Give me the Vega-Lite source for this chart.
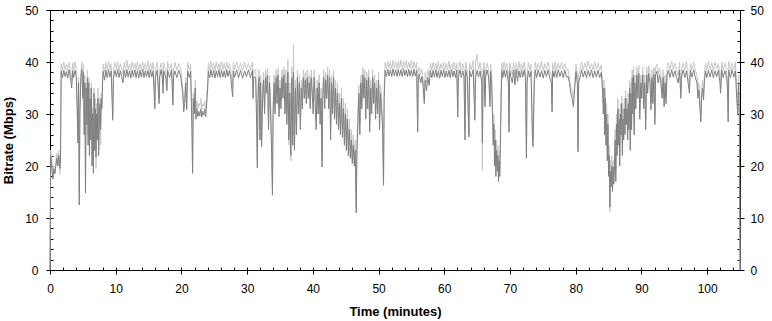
{
"$schema": "https://vega.github.io/schema/vega-lite/v6.json",
"width": 690, "height": 260,
"autosize": {"type": "none"},
"padding": {"left": 50, "top": 10, "right": 32, "bottom": 51},
"background": "white",
"config": {"view": {"stroke": null}, "axis": {"labelFont": "Liberation Sans", "labelFontSize": 12, "labelColor": "black", "titleFont": "Liberation Sans", "titleFontSize": 13, "titleFontWeight": "bold", "titleColor": "black", "domainColor": "black", "tickColor": "black", "grid": false, "zindex": 1, "labelFlush": false}},
"data": {"values": [
{"t":0,"d":0,"l":0},{"t":0.1,"d":22,"l":23},{"t":0.2,"d":21,"l":22},{"t":0.3,"d":19,"l":20.5},{"t":0.45,"d":17.5,"l":18},{"t":0.6,"d":19.5,"l":20},{"t":0.75,"d":18.5,"l":19.5},{"t":0.9,"d":20,"l":21},{"t":1.05,"d":21.5,"l":22.5},{"t":1.2,"d":20,"l":21},{"t":1.35,"d":22,"l":23},{"t":1.5,"d":19.5,"l":18.5},{"t":1.6,"d":21,"l":22},
{"t":1.7,"d":38.3,"l":39.7},{"t":1.9,"d":37.0,"l":38.4},{"t":2.1,"d":38.4,"l":40.0},{"t":2.3,"d":37.2,"l":38.5},{"t":2.5,"d":38.2,"l":39.6},{"t":2.7,"d":36.9,"l":38.3},{"t":2.9,"d":38.5,"l":39.9},{"t":3.1,"d":37.1,"l":38.6},{"t":3.3,"d":35,"l":36.5},{"t":3.45,"d":38.3,"l":39.8},{"t":3.6,"d":37.0,"l":38.4},{"t":3.8,"d":38.4,"l":40.1},{"t":4.0,"d":37.2,"l":38.5},
{"t":4.15,"d":30,"l":32},{"t":4.25,"d":24.4,"l":26},{"t":4.35,"d":36,"l":37},{"t":4.45,"d":12.5,"l":15},{"t":4.55,"d":30,"l":31},{"t":4.7,"d":37,"l":38},{"t":4.85,"d":38.5,"l":40},{"t":5.0,"d":33,"l":35},{"t":5.1,"d":38,"l":39.5},{"t":5.2,"d":26,"l":28},{"t":5.3,"d":36,"l":37.5},{"t":5.4,"d":14.8,"l":17},{"t":5.5,"d":35,"l":36},{"t":5.6,"d":28,"l":30},{"t":5.7,"d":37,"l":38.5},{"t":5.8,"d":24,"l":26},{"t":5.9,"d":36,"l":37},{"t":6.0,"d":22,"l":24},{"t":6.1,"d":33,"l":35},{"t":6.2,"d":25,"l":27},{"t":6.3,"d":35,"l":36},{"t":6.4,"d":20,"l":22},{"t":6.5,"d":30,"l":31},{"t":6.6,"d":18.6,"l":20},{"t":6.7,"d":34,"l":35},{"t":6.8,"d":23,"l":25},{"t":6.9,"d":31,"l":33},{"t":7.0,"d":21.7,"l":19.5},{"t":7.1,"d":30,"l":32},{"t":7.2,"d":25,"l":27},{"t":7.3,"d":33,"l":35},{"t":7.4,"d":22,"l":23},{"t":7.5,"d":28,"l":30},{"t":7.6,"d":32,"l":33},{"t":7.7,"d":27,"l":24},{"t":7.8,"d":33,"l":34},{"t":7.9,"d":31,"l":32},{"t":8.0,"d":36,"l":37},
{"t":8.1,"d":38.2,"l":39.6},{"t":8.3,"d":36.5,"l":38},{"t":8.5,"d":38.4,"l":39.9},{"t":8.7,"d":37.0,"l":38.4},{"t":8.9,"d":38.5,"l":40.2},{"t":9.1,"d":37.1,"l":38.5},{"t":9.3,"d":38.3,"l":39.7},{"t":9.55,"d":28.8,"l":30},{"t":9.65,"d":37.0,"l":38.4},{"t":9.9,"d":38.4,"l":39.9},{"t":10.1,"d":37.1,"l":38.5},{"t":10.3,"d":38.5,"l":40.0},{"t":10.5,"d":37.0,"l":38.3},{"t":10.7,"d":38.3,"l":39.7},{"t":10.9,"d":37.2,"l":38.6},{"t":11.1,"d":36,"l":37.5},{"t":11.3,"d":38.4,"l":39.9},{"t":11.5,"d":37.0,"l":38.4},{"t":11.7,"d":38.5,"l":40.3},{"t":11.9,"d":37.1,"l":38.5},{"t":12.1,"d":38.3,"l":39.6},{"t":12.3,"d":36.9,"l":38.3},{"t":12.5,"d":38.4,"l":40.0},{"t":12.7,"d":37.2,"l":38.6},{"t":12.9,"d":38.5,"l":39.8},{"t":13.1,"d":37.0,"l":38.4},{"t":13.3,"d":38.3,"l":40.1},{"t":13.5,"d":36.9,"l":38.3},{"t":13.7,"d":38.4,"l":39.7},{"t":13.9,"d":37.1,"l":38.5},{"t":14.1,"d":38.6,"l":40.0},{"t":14.3,"d":37.0,"l":38.4},{"t":14.5,"d":38.3,"l":39.8},{"t":14.7,"d":37.2,"l":38.5},{"t":14.9,"d":38.4,"l":40.2},{"t":15.1,"d":37.0,"l":38.4},{"t":15.3,"d":38.5,"l":39.8},{"t":15.5,"d":37.1,"l":38.5},{"t":15.7,"d":38.3,"l":39.9},
{"t":15.95,"d":31,"l":32.5},{"t":16.05,"d":37.0,"l":38.4},{"t":16.3,"d":38.4,"l":40.0},{"t":16.6,"d":32,"l":33},{"t":16.7,"d":37.1,"l":38.5},{"t":16.9,"d":38.5,"l":39.8},{"t":17.1,"d":37.0,"l":38.4},{"t":17.2,"d":34,"l":35.5},{"t":17.3,"d":38.3,"l":39.9},{"t":17.6,"d":37.1,"l":38.5},{"t":17.8,"d":34.5,"l":36},{"t":17.9,"d":38.4,"l":40.1},{"t":18.2,"d":37.0,"l":38.4},{"t":18.5,"d":38.5,"l":39.8},{"t":18.7,"d":31.7,"l":33},{"t":18.8,"d":37.2,"l":38.6},{"t":19.0,"d":38.3,"l":40.0},{"t":19.3,"d":37.0,"l":38.4},{"t":19.6,"d":38.4,"l":39.7},{"t":19.9,"d":37.1,"l":38.5},{"t":20.2,"d":34,"l":35},{"t":20.35,"d":30.4,"l":32},{"t":20.5,"d":32,"l":33},{"t":20.65,"d":36,"l":37},{"t":20.8,"d":30.8,"l":31},{"t":20.95,"d":38.3,"l":39.9},{"t":21.2,"d":37.0,"l":38.4},{"t":21.4,"d":38.2,"l":39.6},
{"t":21.6,"d":27,"l":29},{"t":21.7,"d":18.6,"l":20},{"t":21.8,"d":33,"l":34},{"t":21.95,"d":30,"l":31.5},{"t":22.1,"d":35,"l":36.5},{"t":22.2,"d":29,"l":31},{"t":22.35,"d":31,"l":32.5},{"t":22.5,"d":29.5,"l":31},{"t":22.65,"d":30.5,"l":32},{"t":22.8,"d":29.6,"l":31.5},{"t":22.95,"d":31,"l":33},{"t":23.1,"d":29.4,"l":31},{"t":23.25,"d":30.5,"l":32},{"t":23.4,"d":29.8,"l":31.5},{"t":23.55,"d":31,"l":32.5},{"t":23.7,"d":29.5,"l":31},{"t":23.85,"d":32,"l":33.5},{"t":24.0,"d":35,"l":36},
{"t":24.1,"d":38.3,"l":39.8},{"t":24.3,"d":37.0,"l":38.4},{"t":24.5,"d":38.5,"l":40.1},{"t":24.7,"d":37.1,"l":38.5},{"t":24.9,"d":38.4,"l":39.8},{"t":25.1,"d":36.9,"l":38.3},{"t":25.3,"d":38.3,"l":40.0},{"t":25.5,"d":37.2,"l":38.6},{"t":25.7,"d":38.5,"l":39.7},{"t":25.9,"d":37.0,"l":38.4},{"t":26.1,"d":38.4,"l":40.2},{"t":26.3,"d":37.1,"l":38.5},{"t":26.5,"d":38.3,"l":39.8},{"t":26.7,"d":37.0,"l":38.3},{"t":26.9,"d":38.5,"l":40.0},{"t":27.1,"d":37.2,"l":38.6},{"t":27.3,"d":38.4,"l":39.7},{"t":27.5,"d":37.0,"l":38.4},{"t":27.8,"d":33.3,"l":35},{"t":27.9,"d":38.3,"l":39.9},{"t":28.1,"d":37.1,"l":38.5},{"t":28.4,"d":38.5,"l":40.1},{"t":28.7,"d":37.0,"l":38.4},{"t":29.0,"d":38.4,"l":39.8},{"t":29.3,"d":36.9,"l":38.3},{"t":29.6,"d":38.3,"l":40.0},{"t":29.9,"d":37.2,"l":38.6},{"t":30.2,"d":38.5,"l":39.7},{"t":30.5,"d":37.0,"l":38.4},{"t":30.8,"d":38.4,"l":40.0},{"t":30.9,"d":33,"l":35},{"t":31.0,"d":37.1,"l":38.5},
{"t":31.3,"d":37,"l":38.5},{"t":31.45,"d":28,"l":30},{"t":31.55,"d":19.6,"l":21},{"t":31.65,"d":33,"l":35},{"t":31.8,"d":37,"l":38.5},{"t":31.95,"d":25,"l":27},{"t":32.05,"d":36,"l":37.5},{"t":32.2,"d":23.7,"l":25.5},{"t":32.35,"d":33,"l":35},{"t":32.5,"d":36.5,"l":38},{"t":32.65,"d":30,"l":32},{"t":32.8,"d":37,"l":38.5},{"t":32.95,"d":34,"l":36},{"t":33.1,"d":37.5,"l":38.8},{"t":33.25,"d":27,"l":29},{"t":33.4,"d":36,"l":37.5},{"t":33.55,"d":31,"l":33},{"t":33.7,"d":24,"l":26},{"t":33.85,"d":14.4,"l":16},{"t":33.95,"d":30,"l":32},{"t":34.1,"d":36,"l":37.5},{"t":34.25,"d":30,"l":32},{"t":34.4,"d":37,"l":38.5},{"t":34.55,"d":32,"l":34},{"t":34.7,"d":37.5,"l":38.8},{"t":34.85,"d":29.5,"l":31},{"t":35.0,"d":35,"l":36.5},{"t":35.15,"d":31,"l":33},{"t":35.3,"d":37,"l":38.5},{"t":35.45,"d":33,"l":35},{"t":35.6,"d":37.5,"l":39},{"t":35.75,"d":30,"l":32},{"t":35.9,"d":36,"l":38.5},{"t":36.05,"d":28,"l":30},{"t":36.2,"d":38,"l":40.5},{"t":36.35,"d":25,"l":24},{"t":36.5,"d":34,"l":36},{"t":36.65,"d":22,"l":21},{"t":36.8,"d":37,"l":39},{"t":36.95,"d":24,"l":26},{"t":37.05,"d":38,"l":43.3},{"t":37.2,"d":23,"l":25},{"t":37.35,"d":35,"l":36.5},{"t":37.5,"d":26,"l":28},{"t":37.65,"d":37,"l":38.5},{"t":37.8,"d":30,"l":32},{"t":37.95,"d":36,"l":37.5},{"t":38.1,"d":27,"l":29},{"t":38.25,"d":35,"l":36.5},{"t":38.4,"d":31,"l":33},{"t":38.55,"d":37,"l":38.5},{"t":38.7,"d":33,"l":35},{"t":38.85,"d":36.5,"l":38},{"t":39.0,"d":32,"l":34},{"t":39.15,"d":37,"l":38.5},{"t":39.3,"d":33,"l":35},{"t":39.45,"d":36,"l":37.5},{"t":39.6,"d":31,"l":33},{"t":39.75,"d":37,"l":38.5},{"t":39.9,"d":34,"l":35.5},{"t":40.05,"d":30,"l":32},{"t":40.2,"d":37,"l":38.5},{"t":40.35,"d":32,"l":34},{"t":40.5,"d":27,"l":29},{"t":40.65,"d":35,"l":36.5},{"t":40.8,"d":30,"l":32},{"t":40.95,"d":36,"l":37.5},{"t":41.1,"d":28,"l":30},{"t":41.25,"d":33,"l":35},{"t":41.4,"d":19.8,"l":21},{"t":41.5,"d":33,"l":34},{"t":41.65,"d":37,"l":38.5},{"t":41.8,"d":31,"l":33},{"t":41.95,"d":36.5,"l":38},{"t":42.1,"d":33,"l":35},{"t":42.25,"d":37.5,"l":39},{"t":42.4,"d":31,"l":32},{"t":42.55,"d":37,"l":38.5},{"t":42.7,"d":25,"l":27},{"t":42.85,"d":36,"l":37.5},{"t":43.0,"d":30,"l":32},{"t":43.15,"d":37,"l":38.5},{"t":43.3,"d":29,"l":31},{"t":43.45,"d":35,"l":36.5},{"t":43.6,"d":28,"l":30},{"t":43.75,"d":34,"l":36},{"t":43.9,"d":27,"l":29},{"t":44.05,"d":32,"l":34},{"t":44.2,"d":26,"l":28},{"t":44.35,"d":33,"l":35},{"t":44.5,"d":25.5,"l":27},{"t":44.65,"d":31,"l":33},{"t":44.8,"d":24,"l":26},{"t":44.95,"d":30,"l":32},{"t":45.1,"d":23,"l":25},{"t":45.25,"d":29,"l":31},{"t":45.4,"d":22,"l":24},{"t":45.55,"d":27,"l":29},{"t":45.7,"d":21.5,"l":23},{"t":45.85,"d":25,"l":27},{"t":46.0,"d":20.5,"l":22},{"t":46.15,"d":24,"l":26},{"t":46.3,"d":20,"l":21.5},{"t":46.45,"d":23,"l":25},{"t":46.6,"d":11,"l":12},{"t":46.7,"d":22,"l":24},{"t":46.85,"d":28,"l":30},{"t":47.0,"d":34,"l":35.5},{"t":47.15,"d":26,"l":28},{"t":47.3,"d":36,"l":37.5},{"t":47.45,"d":31,"l":33},{"t":47.6,"d":37.5,"l":39},{"t":47.75,"d":33,"l":35},{"t":47.9,"d":37,"l":38.5},{"t":48.05,"d":29,"l":31},{"t":48.2,"d":36.5,"l":38},{"t":48.35,"d":31,"l":33},{"t":48.5,"d":37,"l":38.5},{"t":48.65,"d":26.5,"l":28},{"t":48.8,"d":35,"l":36.5},{"t":48.95,"d":30,"l":32},{"t":49.1,"d":37,"l":38.5},{"t":49.25,"d":32,"l":34},{"t":49.4,"d":36,"l":37.5},{"t":49.55,"d":29,"l":31},{"t":49.7,"d":35,"l":36.5},{"t":49.85,"d":30,"l":32},{"t":50.0,"d":36.5,"l":38},{"t":50.15,"d":27,"l":29},{"t":50.3,"d":34,"l":35.5},{"t":50.45,"d":31,"l":33},{"t":50.6,"d":28,"l":27},{"t":50.75,"d":16.3,"l":17},{"t":50.85,"d":33,"l":35},
{"t":51.0,"d":38.4,"l":39.9},{"t":51.2,"d":37.2,"l":38.7},{"t":51.4,"d":38.6,"l":40.2},{"t":51.6,"d":37.3,"l":38.8},{"t":51.8,"d":38.5,"l":40.1},{"t":52.0,"d":37.2,"l":38.6},{"t":52.2,"d":38.7,"l":40.3},{"t":52.4,"d":37.4,"l":38.9},{"t":52.6,"d":38.5,"l":40.0},{"t":52.8,"d":37.2,"l":38.7},{"t":53.0,"d":38.6,"l":40.2},{"t":53.2,"d":37.3,"l":38.8},{"t":53.4,"d":38.5,"l":40.4},{"t":53.6,"d":37.2,"l":38.6},{"t":53.8,"d":38.7,"l":40.1},{"t":54.0,"d":37.4,"l":38.9},{"t":54.2,"d":38.5,"l":40.2},{"t":54.4,"d":37.2,"l":38.7},{"t":54.6,"d":38.6,"l":40.0},{"t":54.8,"d":37.3,"l":38.8},{"t":55.0,"d":38.5,"l":40.3},{"t":55.2,"d":37.2,"l":38.6},{"t":55.4,"d":38.6,"l":40.1},{"t":55.6,"d":37.3,"l":38.8},{"t":55.8,"d":38.4,"l":39.9},{"t":55.95,"d":26.5,"l":28},{"t":56.05,"d":37,"l":38.5},{"t":56.2,"d":37.6,"l":39},{"t":56.4,"d":36,"l":37.5},{"t":56.6,"d":37.2,"l":38.6},{"t":56.8,"d":35,"l":36.5},{"t":56.95,"d":32,"l":33.5},{"t":57.1,"d":36.5,"l":38},{"t":57.3,"d":34.5,"l":36},{"t":57.5,"d":37,"l":38.5},{"t":57.7,"d":35.5,"l":37},
{"t":57.9,"d":38.3,"l":39.8},{"t":58.1,"d":37.0,"l":38.4},{"t":58.3,"d":38.4,"l":40.0},{"t":58.5,"d":37.1,"l":38.5},{"t":58.7,"d":38.5,"l":39.8},{"t":58.9,"d":37.0,"l":38.4},{"t":59.1,"d":38.3,"l":40.1},{"t":59.3,"d":36.9,"l":38.3},{"t":59.5,"d":38.4,"l":39.7},{"t":59.7,"d":37.2,"l":38.6},{"t":59.9,"d":38.5,"l":40.0},{"t":60.1,"d":37.0,"l":38.4},{"t":60.3,"d":38.3,"l":39.8},{"t":60.5,"d":37.1,"l":38.5},{"t":60.7,"d":38.4,"l":40.2},{"t":60.9,"d":37.0,"l":38.4},{"t":61.1,"d":38.5,"l":39.7},{"t":61.3,"d":37.2,"l":38.6},{"t":61.5,"d":38.3,"l":40.0},{"t":61.7,"d":37.0,"l":38.4},{"t":61.9,"d":38.4,"l":39.8},{"t":62.05,"d":29.4,"l":31},{"t":62.15,"d":37.1,"l":38.5},{"t":62.4,"d":38.5,"l":40.1},{"t":62.6,"d":37.0,"l":38.4},{"t":62.8,"d":38.3,"l":39.7},{"t":63.0,"d":37.2,"l":38.6},{"t":63.15,"d":25,"l":27},{"t":63.25,"d":38.4,"l":40.0},{"t":63.5,"d":37.0,"l":38.4},{"t":63.75,"d":25.6,"l":26},{"t":63.85,"d":38.3,"l":39.8},{"t":64.1,"d":37.1,"l":38.5},{"t":64.4,"d":38.5,"l":40.2},{"t":64.65,"d":28.8,"l":30},{"t":64.75,"d":37.0,"l":40},{"t":65.0,"d":38.4,"l":41.5},{"t":65.2,"d":37.1,"l":38.5},{"t":65.45,"d":38.3,"l":39.9},{"t":65.7,"d":36,"l":37.5},{"t":65.8,"d":24.4,"l":19.2},{"t":65.9,"d":37.2,"l":38.5},{"t":66.05,"d":38.4,"l":40.0},{"t":66.2,"d":31.4,"l":33},{"t":66.3,"d":37.0,"l":38.4},{"t":66.5,"d":38.5,"l":39.8},{"t":66.75,"d":37.1,"l":38.5},{"t":66.95,"d":31.4,"l":33},{"t":67.05,"d":38.2,"l":39.6},{"t":67.2,"d":36,"l":37.5},
{"t":67.35,"d":29,"l":31},{"t":67.45,"d":24,"l":26},{"t":67.55,"d":28,"l":30},{"t":67.65,"d":20,"l":22},{"t":67.75,"d":25,"l":27},{"t":67.85,"d":18,"l":20},{"t":67.95,"d":23,"l":25},{"t":68.05,"d":19,"l":20.5},{"t":68.15,"d":22,"l":24},{"t":68.25,"d":17,"l":18.5},{"t":68.35,"d":21,"l":23},{"t":68.45,"d":18,"l":19.5},{"t":68.55,"d":25,"l":27},{"t":68.65,"d":33,"l":35},
{"t":68.75,"d":38.3,"l":39.8},{"t":68.9,"d":37.0,"l":38.4},{"t":69.1,"d":38.5,"l":40.1},{"t":69.3,"d":37.1,"l":38.5},{"t":69.5,"d":38.4,"l":39.8},{"t":69.75,"d":36,"l":37.5},{"t":69.85,"d":26.5,"l":28},{"t":69.95,"d":38.3,"l":39.9},{"t":70.15,"d":37.0,"l":38.4},{"t":70.35,"d":36,"l":37.5},{"t":70.55,"d":38.4,"l":40.0},{"t":70.75,"d":35.6,"l":37},{"t":70.95,"d":38.5,"l":39.8},{"t":71.15,"d":36.3,"l":37.8},{"t":71.35,"d":38.3,"l":40.1},{"t":71.55,"d":37.0,"l":38.4},{"t":71.75,"d":38.4,"l":39.7},{"t":71.95,"d":37.1,"l":38.5},{"t":72.15,"d":38.5,"l":40.0},{"t":72.35,"d":37.0,"l":38.4},{"t":72.5,"d":21.5,"l":23},{"t":72.6,"d":36,"l":37.5},{"t":72.8,"d":38.3,"l":39.9},{"t":73.0,"d":37.1,"l":38.5},{"t":73.2,"d":38.2,"l":39.6},{"t":73.4,"d":26,"l":28},{"t":73.5,"d":23.7,"l":25},{"t":73.6,"d":30,"l":32},{"t":73.7,"d":36,"l":37.5},{"t":73.85,"d":38.4,"l":40.0},{"t":74.05,"d":37.0,"l":38.4},{"t":74.3,"d":38.5,"l":39.8},{"t":74.55,"d":37.1,"l":38.5},{"t":74.8,"d":38.3,"l":40.2},{"t":75.05,"d":36.9,"l":38.3},{"t":75.3,"d":38.4,"l":39.7},{"t":75.55,"d":37.2,"l":38.6},{"t":75.8,"d":38.5,"l":40.0},{"t":76.05,"d":37.0,"l":38.4},{"t":76.3,"d":36,"l":37.5},{"t":76.4,"d":30.4,"l":32},{"t":76.5,"d":38.3,"l":39.8},{"t":76.7,"d":37.1,"l":38.5},{"t":76.9,"d":38.4,"l":40.1},{"t":77.1,"d":37.0,"l":38.4},{"t":77.35,"d":38.5,"l":39.8},{"t":77.6,"d":37.2,"l":38.6},{"t":77.85,"d":38.3,"l":40.0},{"t":78.1,"d":37.0,"l":38.4},{"t":78.35,"d":38.4,"l":39.7},{"t":78.6,"d":37.1,"l":38.5},{"t":78.85,"d":37.2,"l":38.5},{"t":79.05,"d":36,"l":37},{"t":79.25,"d":34,"l":35},{"t":79.45,"d":33,"l":34.5},{"t":79.65,"d":31.4,"l":33},{"t":79.85,"d":35,"l":36},{"t":80.05,"d":38.2,"l":39.6},{"t":80.25,"d":36,"l":37.5},{"t":80.35,"d":22.7,"l":24},{"t":80.45,"d":36,"l":37.5},{"t":80.65,"d":37.0,"l":38.4},{"t":80.9,"d":38.5,"l":40.0},{"t":81.15,"d":37.1,"l":38.5},{"t":81.4,"d":38.3,"l":39.8},{"t":81.65,"d":37.0,"l":38.4},{"t":81.9,"d":38.4,"l":40.2},{"t":82.15,"d":37.2,"l":38.6},{"t":82.4,"d":38.5,"l":39.7},{"t":82.65,"d":37.0,"l":38.4},{"t":82.9,"d":38.3,"l":40.0},{"t":83.15,"d":37.1,"l":38.5},{"t":83.4,"d":38.4,"l":39.8},{"t":83.65,"d":37.0,"l":38.4},{"t":83.9,"d":38.0,"l":39.4},
{"t":84.1,"d":34,"l":35.5},{"t":84.2,"d":30,"l":32},{"t":84.3,"d":35,"l":36.5},{"t":84.4,"d":26,"l":28},{"t":84.5,"d":33,"l":35},{"t":84.6,"d":24,"l":26},{"t":84.7,"d":30,"l":32},{"t":84.8,"d":21,"l":23},{"t":84.9,"d":28,"l":30},{"t":85.0,"d":18,"l":20},{"t":85.1,"d":22,"l":24},{"t":85.2,"d":12.1,"l":11.2},{"t":85.3,"d":19,"l":21},{"t":85.4,"d":16,"l":18},{"t":85.5,"d":20,"l":22},{"t":85.6,"d":15,"l":17},{"t":85.7,"d":19.8,"l":21},{"t":85.8,"d":16.5,"l":18},{"t":85.9,"d":20,"l":22},{"t":86.0,"d":25,"l":27},{"t":86.1,"d":17,"l":19},{"t":86.2,"d":28,"l":30},{"t":86.3,"d":22,"l":24},{"t":86.4,"d":31,"l":33},{"t":86.5,"d":24,"l":26},{"t":86.6,"d":29,"l":31},{"t":86.7,"d":20,"l":22},{"t":86.8,"d":30,"l":32},{"t":86.9,"d":26,"l":28},{"t":87.0,"d":32,"l":33.5},{"t":87.1,"d":22,"l":24},{"t":87.2,"d":29,"l":31},{"t":87.3,"d":25,"l":27},{"t":87.4,"d":31,"l":33},{"t":87.5,"d":26,"l":28},{"t":87.6,"d":33,"l":34.5},{"t":87.7,"d":28,"l":30},{"t":87.8,"d":31,"l":33},{"t":87.9,"d":25,"l":27},{"t":88.0,"d":32,"l":34},{"t":88.1,"d":27,"l":29},{"t":88.2,"d":35,"l":36.5},{"t":88.3,"d":23,"l":25},{"t":88.4,"d":34,"l":36},{"t":88.5,"d":27,"l":29},{"t":88.6,"d":37,"l":38.5},{"t":88.7,"d":30,"l":32},{"t":88.8,"d":37.5,"l":39},{"t":88.9,"d":26,"l":28},{"t":89.0,"d":36,"l":37.5},{"t":89.15,"d":31,"l":33},{"t":89.3,"d":37.5,"l":39},{"t":89.45,"d":33,"l":35},{"t":89.6,"d":37.8,"l":39.4},{"t":89.75,"d":29,"l":31},{"t":89.9,"d":36,"l":37.5},{"t":90.05,"d":33,"l":35},{"t":90.2,"d":37.5,"l":39},{"t":90.35,"d":31,"l":33},{"t":90.5,"d":36,"l":37.5},{"t":90.65,"d":27,"l":29},{"t":90.8,"d":37.5,"l":39},{"t":90.95,"d":34,"l":36},{"t":91.1,"d":37.8,"l":39.3},{"t":91.3,"d":36,"l":37.5},{"t":91.45,"d":30.8,"l":32},{"t":91.6,"d":37,"l":38.5},{"t":91.75,"d":32,"l":34},{"t":91.9,"d":37.6,"l":39},{"t":92.05,"d":28,"l":29.5},{"t":92.15,"d":37.5,"l":38.9},{"t":92.35,"d":38.2,"l":39.6},{"t":92.55,"d":36,"l":37.5},{"t":92.75,"d":37.5,"l":38.8},{"t":92.95,"d":36,"l":37.5},{"t":93.15,"d":33,"l":34.5},{"t":93.3,"d":37,"l":38.5},{"t":93.45,"d":31.4,"l":33},{"t":93.6,"d":36,"l":37.5},{"t":93.75,"d":32,"l":33.5},{"t":93.9,"d":37.5,"l":38.9},
{"t":94.1,"d":38.4,"l":39.9},{"t":94.35,"d":37.0,"l":38.4},{"t":94.6,"d":38.5,"l":40.1},{"t":94.85,"d":37.1,"l":38.5},{"t":95.1,"d":38.3,"l":39.8},{"t":95.35,"d":37.0,"l":38.4},{"t":95.6,"d":36,"l":37.5},{"t":95.8,"d":38.4,"l":40.0},{"t":96.0,"d":33,"l":34.5},{"t":96.1,"d":37.1,"l":38.5},{"t":96.35,"d":38.5,"l":39.8},{"t":96.6,"d":37.0,"l":38.4},{"t":96.85,"d":38.3,"l":40.2},{"t":97.1,"d":36,"l":37},{"t":97.3,"d":34,"l":35.5},{"t":97.45,"d":38.4,"l":39.7},{"t":97.7,"d":37.1,"l":38.5},{"t":97.95,"d":38.5,"l":40.0},{"t":98.2,"d":37.0,"l":38.4},{"t":98.45,"d":36,"l":37.5},{"t":98.6,"d":33,"l":34.5},{"t":98.75,"d":34.6,"l":36},{"t":98.9,"d":31,"l":33},{"t":99.05,"d":28.5,"l":30},{"t":99.15,"d":33,"l":34.5},{"t":99.3,"d":35,"l":36.5},{"t":99.45,"d":32.7,"l":34},{"t":99.6,"d":36.5,"l":38},{"t":99.75,"d":38.3,"l":39.8},{"t":99.95,"d":37.0,"l":38.4},{"t":100.2,"d":38.4,"l":40.1},{"t":100.45,"d":37.1,"l":38.5},{"t":100.7,"d":38.5,"l":39.8},{"t":100.95,"d":37.0,"l":38.4},{"t":101.2,"d":38.3,"l":40.0},{"t":101.45,"d":37.2,"l":38.6},{"t":101.7,"d":38.4,"l":39.7},{"t":101.95,"d":36,"l":37.5},{"t":102.05,"d":34,"l":35},{"t":102.2,"d":38.5,"l":40.0},{"t":102.45,"d":37.0,"l":38.4},{"t":102.7,"d":38.3,"l":39.8},{"t":102.95,"d":37.1,"l":38.5},{"t":103.1,"d":35,"l":36},{"t":103.2,"d":28.5,"l":30},{"t":103.3,"d":38.4,"l":40.1},{"t":103.55,"d":37.0,"l":38.4},{"t":103.8,"d":38.5,"l":39.8},{"t":104.05,"d":37.1,"l":38.5},{"t":104.3,"d":38.3,"l":40.0},{"t":104.5,"d":33,"l":35},{"t":104.65,"d":30,"l":32},{"t":104.8,"d":36,"l":37.5},{"t":104.9,"d":29,"l":31},{"t":105,"d":0,"l":0}
]},
"layer": [
{"mark": {"type": "line", "color": "#c8c8c8", "strokeWidth": 1},
 "encoding": {
  "x": {"field": "t", "type": "quantitative", "scale": {"domain": [0, 105], "nice": false, "zero": false},
        "axis": {"orient": "bottom", "values": [0,10,20,30,40,50,60,70,80,90,100], "tickSize": 4, "labelPadding": 9, "title": "Time (minutes)", "titlePadding": 11}},
  "y": {"field": "l", "type": "quantitative", "scale": {"domain": [0, 50], "nice": false},
        "axis": {"orient": "left", "values": [0,10,20,30,40,50], "tickSize": 4, "labelPadding": 8, "title": "Bitrate (Mbps)", "titlePadding": 9}}}},
{"mark": {"type": "line", "color": "#808080", "strokeWidth": 1},
 "encoding": {
  "x": {"field": "t", "type": "quantitative",
        "axis": {"orient": "bottom", "values": [0,2,4,6,8,10,12,14,16,18,20,22,24,26,28,30,32,34,36,38,40,42,44,46,48,50,52,54,56,58,60,62,64,66,68,70,72,74,76,78,80,82,84,86,88,90,92,94,96,98,100,102,104], "tickSize": -3, "labels": false, "domain": false, "title": null}},
  "y": {"field": "d", "type": "quantitative",
        "axis": {"orient": "left", "values": [0,2,4,6,8,10,12,14,16,18,20,22,24,26,28,30,32,34,36,38,40,42,44,46,48,50], "tickSize": -3, "labels": false, "domain": false, "title": null}}}},
{"mark": {"type": "line", "opacity": 0},
 "encoding": {
  "x": {"field": "t", "type": "quantitative",
        "axis": {"orient": "top", "values": [0,2,4,6,8,10,12,14,16,18,20,22,24,26,28,30,32,34,36,38,40,42,44,46,48,50,52,54,56,58,60,62,64,66,68,70,72,74,76,78,80,82,84,86,88,90,92,94,96,98,100,102,104], "tickSize": -3, "labels": false, "title": null}},
  "y": {"field": "d", "type": "quantitative",
        "axis": {"orient": "right", "values": [0,10,20,30,40,50], "tickSize": 4, "labelPadding": 6, "title": null}}}},
{"mark": {"type": "line", "opacity": 0},
 "encoding": {
  "x": {"field": "t", "type": "quantitative", "axis": null},
  "y": {"field": "d", "type": "quantitative",
        "axis": {"orient": "right", "values": [0,2,4,6,8,10,12,14,16,18,20,22,24,26,28,30,32,34,36,38,40,42,44,46,48,50], "tickSize": -3, "labels": false, "domain": false, "title": null}}}}
],
"resolve": {"axis": {"x": "independent", "y": "independent"}}
}
